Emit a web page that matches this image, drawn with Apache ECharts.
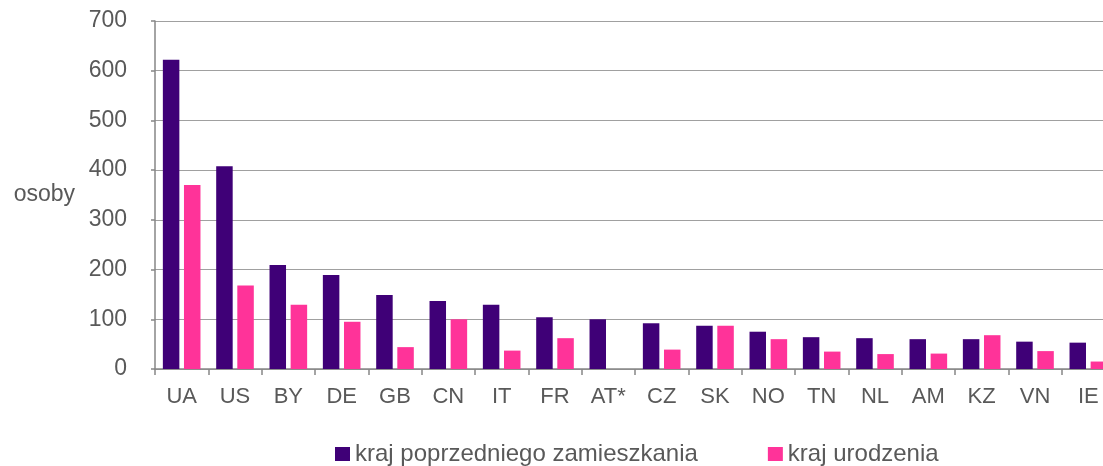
<!DOCTYPE html>
<html>
<head>
<meta charset="utf-8">
<script src="https://cdn.jsdelivr.net/npm/echarts@6/dist/echarts.min.js"></script>
<style>
    html, body { margin: 0; padding: 0; background: #fff; }
    #chart { width: 1103px; height: 466px; }
</style>
</head>
<body>
<div id="chart"></div>
<script>
// kraje
const countries = ["UA", "US", "BY", "DE", "GB", "CN", "IT", "FR", "AT*", "CZ", "SK", "NO", "TN", "NL", "AM", "KZ", "VN", "IE"];
// kraj poprzedniego zamieszkania
const prevResidence = [622, 408, 209, 189, 149, 137, 129, 104, 100, 92, 87, 75, 64, 62, 60, 60, 55, 53];
// kraj urodzenia (AT* - brak danych)
const birthCountry = [370, 168, 129, 95, 44, 100, 37, 62, null, 39, 87, 60, 35, 30, 31, 68, 36, 15];
const yTicks = [0, 100, 200, 300, 400, 500, 600, 700];

const textColor = "#595959";
const font = "Liberation Sans, Arial, sans-serif";

let chart = echarts.init(document.getElementById("chart"));

chart.setOption({
    animation: false,
    grid: {
        left: 155,
        top: 21,
        width: 960,
        height: 348,
        containLabel: false,
        outerBoundsMode: "none",
    },
    legend: {
        left: 335,
        top: 442,
        padding: 0,
        itemWidth: 15,
        itemHeight: 14,
        itemGap: 70,
        icon: "rect",
        textStyle: {
            color: textColor,
            fontSize: 24,
            fontFamily: font,
        },
        data: ["kraj poprzedniego zamieszkania", "kraj urodzenia"],
    },
    xAxis: {
        type: "category",
        data: countries,
        axisLine: { lineStyle: { color: "#868686", width: 1.5 } },
        axisTick: { show: true, length: 6, lineStyle: { color: "#868686", width: 1.5 } },
        axisLabel: {
            color: textColor,
            fontSize: 22,
            fontFamily: font,
            margin: 17,
        },
    },
    yAxis: {
        type: "value",
        min: yTicks[0],
        max: yTicks[yTicks.length - 1],
        interval: 100,
        name: "osoby",
        nameLocation: "middle",
        nameRotate: 0,
        nameGap: 80,
        nameTextStyle: {
            color: textColor,
            fontSize: 23,
            fontFamily: font,
        },
        axisLine: { show: true, lineStyle: { color: "#868686", width: 1.5 } },
        axisTick: { show: true, length: 4, lineStyle: { color: "#868686", width: 1.5 } },
        axisLabel: {
            color: textColor,
            fontSize: 23,
            fontFamily: font,
            margin: 28,
        },
        splitLine: { lineStyle: { color: "#a0a0a0", width: 1.2 } },
    },
    series: [
        {
            name: "kraj poprzedniego zamieszkania",
            type: "bar",
            data: prevResidence,
            barWidth: 16.5,
            barGap: "28%",
            itemStyle: { color: "#3f0077" },
        },
        {
            name: "kraj urodzenia",
            type: "bar",
            data: birthCountry,
            barWidth: 16.5,
            itemStyle: { color: "#ff3399" },
        },
    ],
});
</script>
</body>
</html>
